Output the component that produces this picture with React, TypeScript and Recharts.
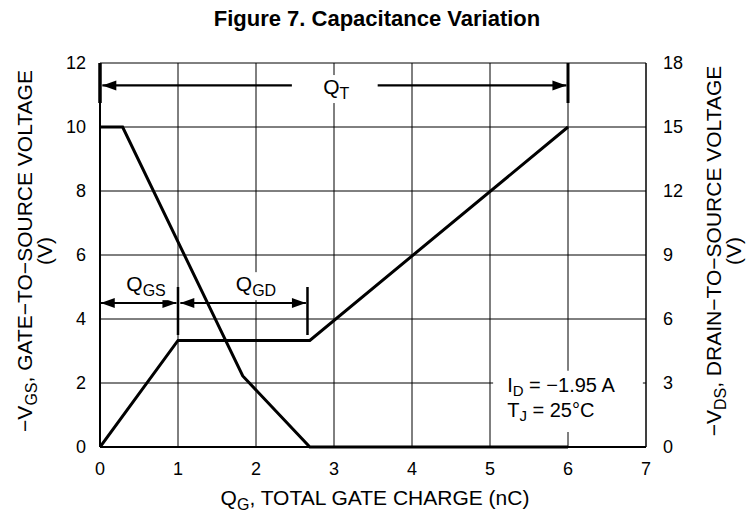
import React from "react";
import {
  ComposedChart,
  Line,
  XAxis,
  YAxis,
  CartesianGrid,
  ReferenceLine,
  ReferenceArea,
  ReferenceDot,
} from "recharts";

// Q_G axis (nC)
const xTicks = [0, 1, 2, 3, 4, 5, 6, 7];
const vgsTicks = [0, 2, 4, 6, 8, 10, 12];
const vdsTicks = [0, 3, 6, 9, 12, 15, 18];

// -V_GS curve (left axis)
const gateCharge = [0, 1.0, 2.69, 6.0];
const gateVoltage = [0, 3.33, 3.33, 10.0];

// -V_DS curve (right axis)
const drainCharge = [0, 0.29, 1.83, 2.69, 6.0];
const drainVoltage = [15, 15, 3.33, 0, 0];

const vgsData = gateCharge.map((q, i) => ({ q, v: gateVoltage[i] }));
const vdsData = drainCharge.map((q, i) => ({ q, v: drainVoltage[i] }));

const FONT = "'Liberation Sans', Arial, Helvetica, sans-serif";
const W = 750;
const H = 516;

function arrow(startHead: boolean, endHead: boolean) {
  return (p: any) => {
    const { x1, y1, x2, y2 } = p;
    const len = 14;
    const half = 5;
    const dx = x2 - x1;
    const dy = y2 - y1;
    const d = Math.sqrt(dx * dx + dy * dy) || 1;
    const ux = dx / d;
    const uy = dy / d;
    const head = (tx: number, ty: number, sx: number, sy: number) => {
      const bx = tx - sx * len;
      const by = ty - sy * len;
      return `${tx},${ty} ${bx - sy * half},${by + sx * half} ${bx + sy * half},${by - sx * half}`;
    };
    return (
      <g>
        <line x1={x1} y1={y1} x2={x2} y2={y2} stroke="#000" strokeWidth={2.2} />
        {startHead && <polygon points={head(x1, y1, -ux, -uy)} fill="#000" />}
        {endHead && <polygon points={head(x2, y2, ux, uy)} fill="#000" />}
      </g>
    );
  };
}

function subLabel(main: string, sub: string, boxW: number) {
  return (p: any) => {
    const { cx, cy } = p;
    return (
      <g>
        <rect x={cx - boxW / 2} y={cy - 19} width={boxW} height={28} fill="#fff" />
        <text x={cx} y={cy} textAnchor="middle" fontFamily={FONT} fontSize={21} fill="#000">
          {main}
          <tspan fontSize={16} dy={5}>{sub}</tspan>
        </text>
      </g>
    );
  };
}

function condLine(main: string, sub: string, rest: string) {
  return (p: any) => {
    const { cx, cy } = p;
    return (
      <text x={cx} y={cy} fontFamily={FONT} fontSize={20} fill="#000">
        {main}
        <tspan fontSize={15} dy={4}>{sub}</tspan>
        <tspan dy={-4}>{rest}</tspan>
      </text>
    );
  };
}

export default function App() {
  return (
    <div style={{ position: "absolute", left: 0, top: 0, width: W, height: H, background: "#fff", fontFamily: FONT }}>
      <ComposedChart width={W} height={H} margin={{ top: 63, right: 0, bottom: 0, left: 0 }}>
        <CartesianGrid stroke="#000" strokeWidth={1} horizontalValues={vgsTicks} verticalValues={xTicks} yAxisId="left" />
        <XAxis
          dataKey="q"
          type="number"
          domain={[0, 7]}
          ticks={xTicks}
          height={69}
          tickLine={false}
          tickMargin={9}
          axisLine={{ stroke: "#000", strokeWidth: 2 }}
          tick={{ fill: "#000", fontSize: 18, fontFamily: FONT }}
          allowDataOverflow
        />
        <YAxis
          yAxisId="left"
          type="number"
          domain={[0, 12]}
          ticks={vgsTicks}
          width={100}
          tickLine={false}
          tickMargin={8}
          axisLine={{ stroke: "#000", strokeWidth: 2 }}
          tick={{ fill: "#000", fontSize: 18, fontFamily: FONT }}
        />
        <YAxis
          yAxisId="right"
          orientation="right"
          type="number"
          domain={[0, 18]}
          ticks={vdsTicks}
          width={104}
          tickLine={false}
          tickMargin={11}
          axisLine={{ stroke: "#000", strokeWidth: 1 }}
          tick={{ fill: "#000", fontSize: 18, fontFamily: FONT, textAnchor: "start" }}
        />

        {/* condition box */}
        <ReferenceArea yAxisId="left" x1={5.04} x2={6.96} y1={0.47} y2={2.38} fill="#fff" fillOpacity={1} stroke="none" />
        <ReferenceDot yAxisId="left" x={5.22} y={1.72} r={0} shape={condLine("I", "D", " = \u22121.95 A")} />
        <ReferenceDot yAxisId="left" x={5.22} y={0.93} r={0} shape={condLine("T", "J", " = 25\u00B0C")} />

        {/* Q_T */}
        <ReferenceLine yAxisId="left" segment={[{ x: 0, y: 12 }, { x: 0, y: 10.75 }]} stroke="#000" strokeWidth={3.5} />
        <ReferenceLine yAxisId="left" segment={[{ x: 6, y: 12 }, { x: 6, y: 10.75 }]} stroke="#000" strokeWidth={3} />
        <ReferenceDot yAxisId="left" x={3.03} y={11.03} r={0} shape={subLabel("Q", "T", 64)} />
        <ReferenceLine yAxisId="left" segment={[{ x: 0.03, y: 11.3 }, { x: 2.46, y: 11.3 }]} shape={arrow(true, false)} />
        <ReferenceLine yAxisId="left" segment={[{ x: 3.56, y: 11.3 }, { x: 5.98, y: 11.3 }]} shape={arrow(false, true)} />

        {/* Q_GS / Q_GD */}
        <ReferenceDot yAxisId="left" x={0.59} y={4.87} r={0} shape={subLabel("Q", "GS", 58)} />
        <ReferenceDot yAxisId="left" x={2.0} y={4.87} r={0} shape={subLabel("Q", "GD", 58)} />
        <ReferenceLine yAxisId="left" segment={[{ x: 1, y: 5.0 }, { x: 1, y: 3.5 }]} stroke="#000" strokeWidth={2.5} />
        <ReferenceLine yAxisId="left" segment={[{ x: 2.66, y: 5.0 }, { x: 2.66, y: 3.5 }]} stroke="#000" strokeWidth={2.5} />
        <ReferenceLine yAxisId="left" segment={[{ x: 0.01, y: 4.5 }, { x: 0.98, y: 4.5 }]} shape={arrow(true, true)} />
        <ReferenceLine yAxisId="left" segment={[{ x: 1.03, y: 4.5 }, { x: 2.64, y: 4.5 }]} shape={arrow(true, true)} />

        <Line
          yAxisId="left"
          data={vgsData}
          dataKey="v"
          type="linear"
          stroke="#000"
          strokeWidth={3}
          dot={false}
          isAnimationActive={false}
        />
        <Line
          yAxisId="right"
          data={vdsData}
          dataKey="v"
          type="linear"
          stroke="#000"
          strokeWidth={3}
          dot={false}
          isAnimationActive={false}
        />
      </ComposedChart>

      <svg width={W} height={H} style={{ position: "absolute", left: 0, top: 0, pointerEvents: "none" }}>
        <text x={377} y={26} textAnchor="middle" fontFamily={FONT} fontSize={22} fontWeight={700} fill="#000">
          Figure 7. Capacitance Variation
        </text>
        <text transform="translate(32,251) rotate(-90)" textAnchor="middle" fontFamily={FONT} fontSize={21} fill="#000">
          {"\u2212V"}
          <tspan fontSize={16} dy={5}>GS</tspan>
          <tspan dy={-5}>, GATE{"\u2212"}TO{"\u2212"}SOURCE VOLTAGE</tspan>
        </text>
        <text transform="translate(52,251) rotate(-90)" textAnchor="middle" fontFamily={FONT} fontSize={21} fill="#000">
          (V)
        </text>
        <text transform="translate(721,251) rotate(-90)" textAnchor="middle" fontFamily={FONT} fontSize={21} fill="#000">
          {"\u2212V"}
          <tspan fontSize={16} dy={5}>DS</tspan>
          <tspan dy={-5}>, DRAIN{"\u2212"}TO{"\u2212"}SOURCE VOLTAGE</tspan>
        </text>
        <text transform="translate(741,251) rotate(-90)" textAnchor="middle" fontFamily={FONT} fontSize={21} fill="#000">
          (V)
        </text>
        <text x={375} y={505} textAnchor="middle" fontFamily={FONT} fontSize={21} fill="#000">
          Q
          <tspan fontSize={16} dy={5}>G</tspan>
          <tspan dy={-5}>, TOTAL GATE CHARGE (nC)</tspan>
        </text>
      </svg>
    </div>
  );
}
